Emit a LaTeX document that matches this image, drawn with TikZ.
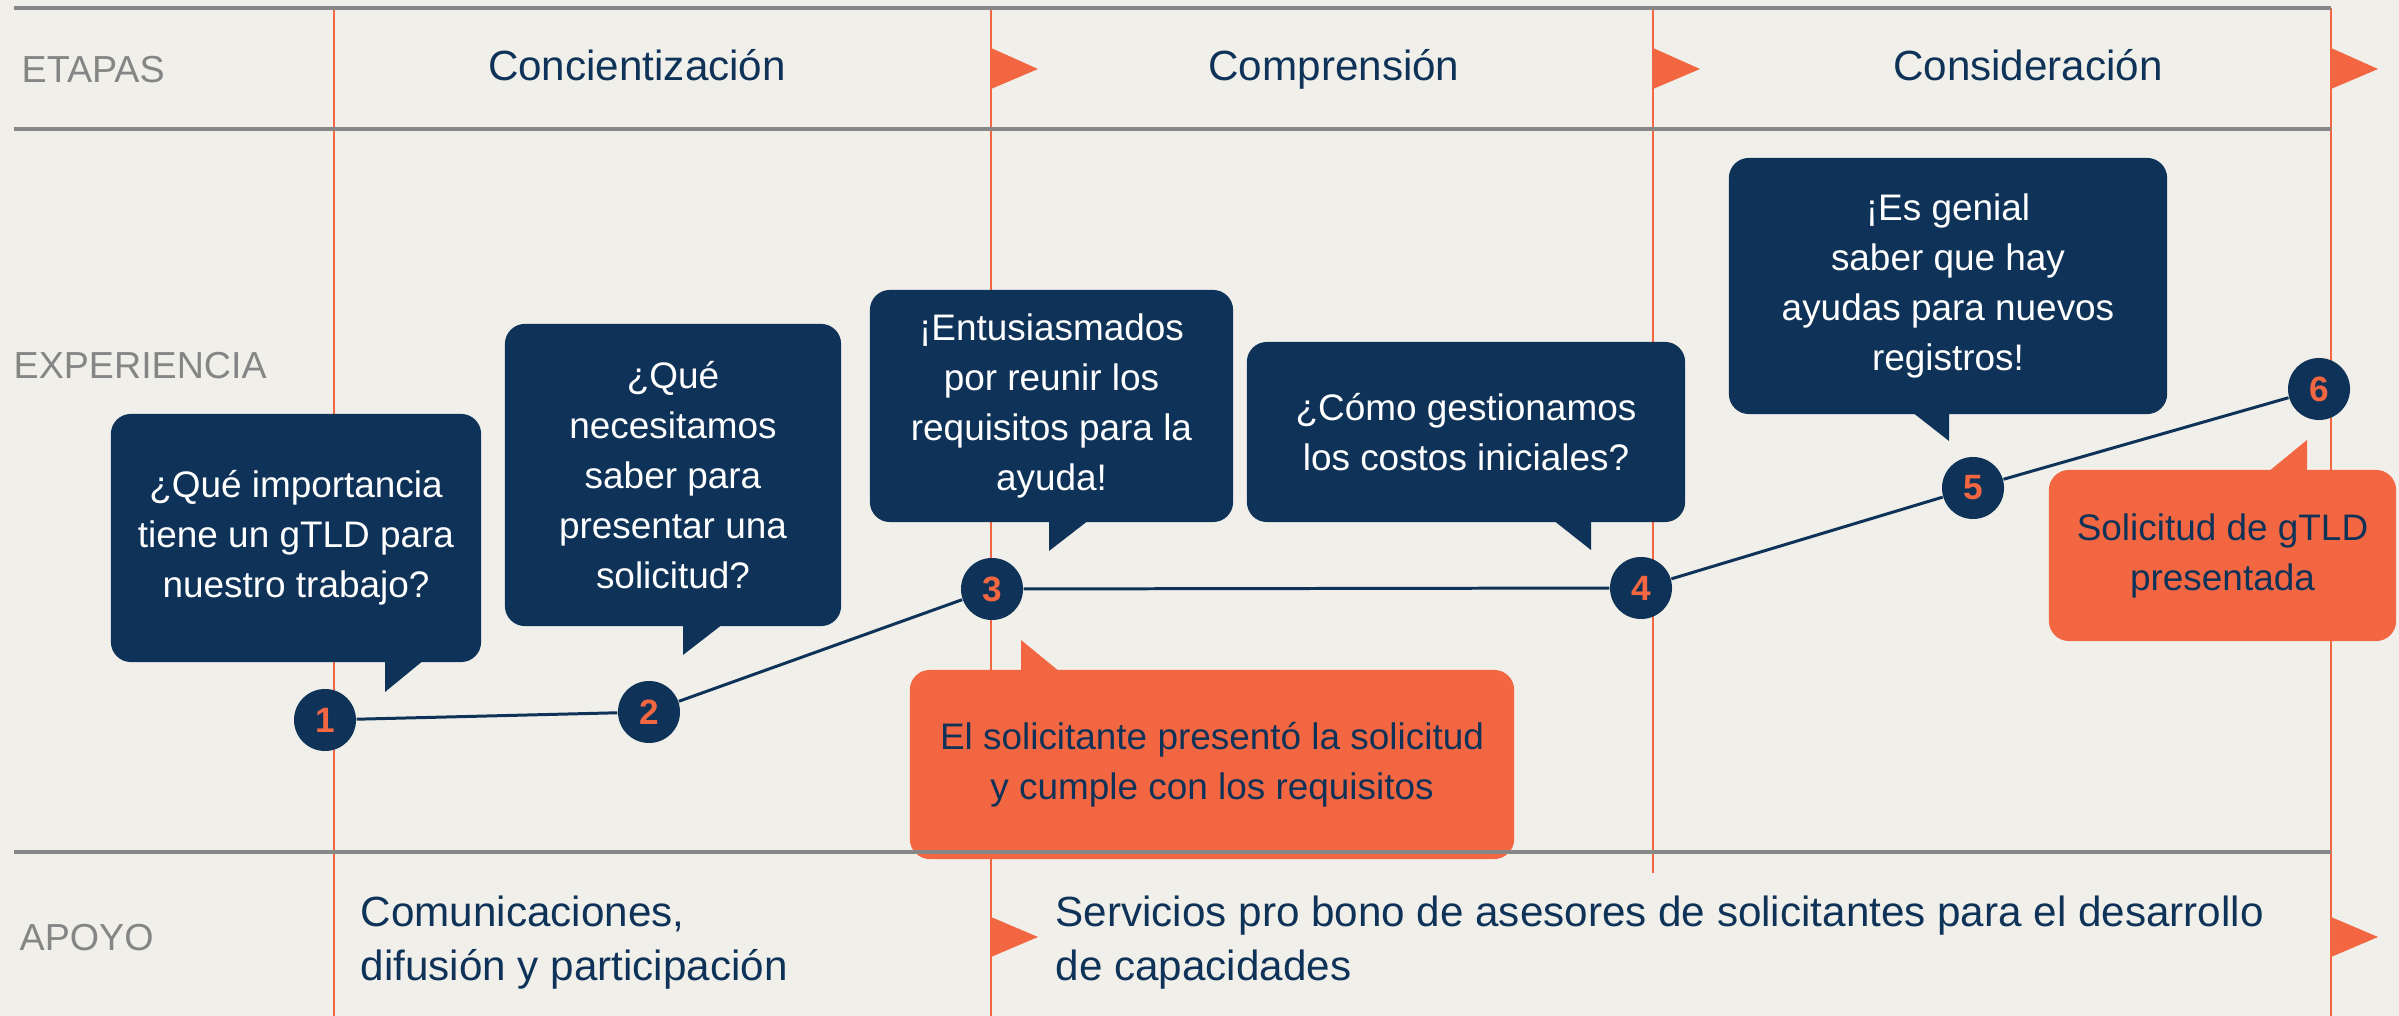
\documentclass[tikz,border=0pt]{standalone}
\usepackage{fontspec}
\setmainfont{Liberation Sans}
\definecolor{navy}{HTML}{0F3358}
\definecolor{orng}{HTML}{F26641}
\definecolor{bg}{HTML}{F0EFEA}
\definecolor{grayln}{HTML}{878787}
\definecolor{graytx}{HTML}{858585}
\begin{document}
\begin{tikzpicture}[x=0.01cm,y=-0.01cm,
  bubble/.style={fill=navy, rounded corners=0.2cm, inner sep=0pt, outer sep=0pt, text=white, align=center, font=\fontsize{10.5}{14.2}\selectfont},
  obox/.style={fill=orng, rounded corners=0.2cm, inner sep=0pt, outer sep=0pt, text=navy, align=center, font=\fontsize{10.5}{14.2}\selectfont},
  stepnum/.style={circle, fill=navy, minimum size=0.62cm, inner sep=0pt, text=orng, font=\fontsize{10}{12}\selectfont\bfseries},
  rowlabel/.style={text=graytx, anchor=base west, inner sep=0pt, font=\fontsize{10.7}{13}\selectfont},
  header/.style={text=navy, anchor=base, inner sep=0pt, font=\fontsize{12}{14}\selectfont},
  support/.style={text=navy, anchor=west, inner sep=0pt, align=left, font=\fontsize{12}{15.4}\selectfont},
  redline/.style={draw=orng, line width=0.7pt},
  grayline/.style={draw=grayln, line width=0.95pt},
  link/.style={draw=navy, line width=0.85pt}]
\useasboundingbox (0,0) rectangle (2399,1016);
\fill[bg] (0,0) rectangle (2399,1016);

% red stage lines
\draw[redline] (334,8) -- (334,1016);
\draw[redline] (991,8) -- (991,1016);
\draw[redline] (1653,8) -- (1653,873);
\draw[redline] (2331,8) -- (2331,1016);

% flags
\fill[orng] (991,48) -- (1038,69) -- (991,89) -- cycle;
\fill[orng] (1653,48) -- (1700,69) -- (1653,89) -- cycle;
\fill[orng] (2331,48) -- (2378,69) -- (2331,89) -- cycle;
\fill[orng] (991,917) -- (1038,937) -- (991,957) -- cycle;
\fill[orng] (2331,917) -- (2378,937) -- (2331,957) -- cycle;

% speech bubbles
\node[bubble, minimum width=3.70cm, minimum height=2.48cm] (b1) at (296,538)
  {¿Qué importancia\\tiene un gTLD para\\nuestro trabajo?};
\fill[navy] (385,660) -- (385,692) -- (424,660) -- cycle;

\node[bubble, minimum width=3.36cm, minimum height=3.02cm] (b2) at (673,475)
  {¿Qué\\necesitamos\\saber para\\presentar una\\solicitud?};
\fill[navy] (683,624) -- (683,655) -- (723,624) -- cycle;

\node[bubble, minimum width=3.63cm, minimum height=2.32cm] (b3) at (1051.5,406)
  {¡Entusiasmados\\por reunir los\\requisitos para la\\ayuda!};
\fill[navy] (1049,520) -- (1049,551) -- (1089,520) -- cycle;

\node[bubble, minimum width=4.38cm, minimum height=1.80cm] (b4) at (1466,432)
  {¿Cómo gestionamos\\los costos iniciales?};
\fill[navy] (1553,520) -- (1591,550) -- (1591,520) -- cycle;

\node[bubble, minimum width=4.38cm, minimum height=2.56cm] (b5) at (1948,286)
  {¡Es genial\\saber que hay\\ayudas para nuevos\\registros!};
\fill[navy] (1912,412) -- (1949,441) -- (1949,412) -- cycle;

% orange outcome boxes
\node[obox, minimum width=6.04cm, minimum height=1.89cm] (o1) at (1212,764.5)
  {El solicitante presentó la solicitud\\y cumple con los requisitos};
\fill[orng] (1021,672) -- (1021,640) -- (1060,672) -- cycle;

\node[obox, minimum width=3.47cm, minimum height=1.71cm] (o2) at (2222.5,555.5)
  {Solicitud de gTLD\\presentada};
\fill[orng] (2268,472) -- (2307,440) -- (2307,472) -- cycle;

% gray row lines
\draw[grayline] (14,8) -- (2331,8);
\draw[grayline] (14,129) -- (2331,129);
\draw[grayline] (14,852) -- (2331,852);

% journey steps
\node[stepnum] (s1) at (325,720) {1};
\node[stepnum] (s2) at (649,712) {2};
\node[stepnum] (s3) at (992,589) {3};
\node[stepnum] (s4) at (1641,588) {4};
\node[stepnum] (s5) at (1973,488) {5};
\node[stepnum] (s6) at (2319,389) {6};
\draw[link] (s1) -- (s2);
\draw[link] (s2) -- (s3);
\draw[link] (s3) -- (s4);
\draw[link] (s4) -- (s5);
\draw[link] (s5) -- (s6);

% row labels
\node[rowlabel] (letapas) at (21,83) {ETAPAS};
\node[rowlabel] (lexp) at (13,379) {EXPERIENCIA};
\node[rowlabel] (lapoyo) at (19,951) {APOYO};

% stage headers
\node[header] (h1) at (637,81) {Concientización};
\node[header] (h2) at (1334,81) {Comprensión};
\node[header] (h3) at (2028,81) {Consideración};

% support texts
\node[support] (sup1) at (360,943) {Comunicaciones,\\difusión y participación};
\node[support] (sup2) at (1055,943) {Servicios pro bono de asesores de solicitantes para el desarrollo\\de capacidades};
\end{tikzpicture}
\end{document}
